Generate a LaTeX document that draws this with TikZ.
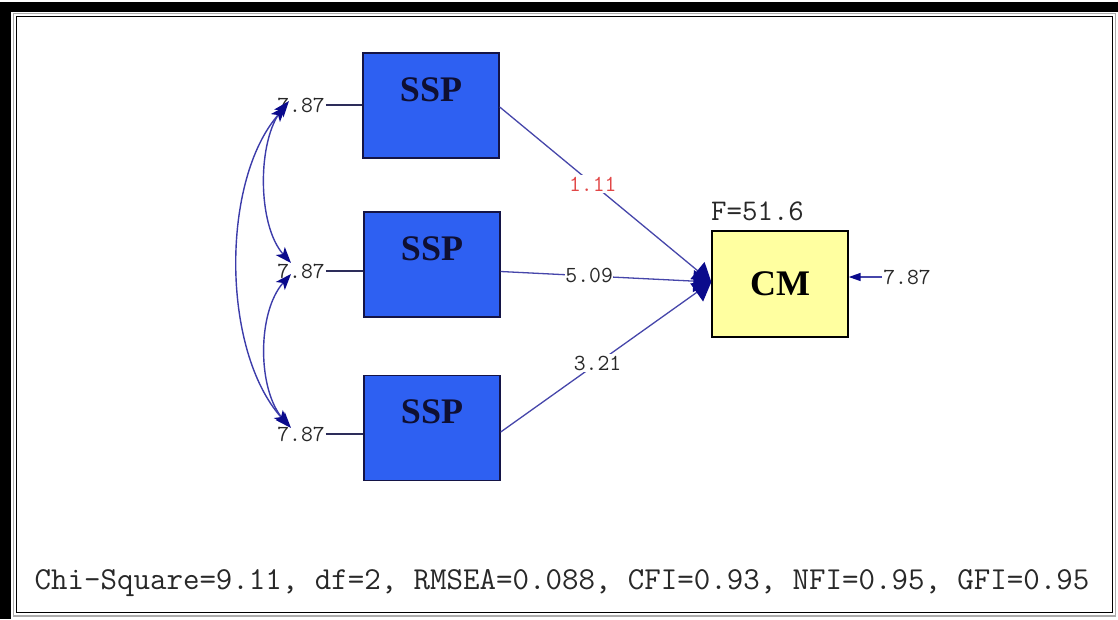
\documentclass[tikz,border=0pt]{standalone}
\usepackage{fontspec}
\setmainfont{Liberation Serif}
\usetikzlibrary{arrows.meta,calc}

\definecolor{sspblue}{RGB}{46,96,242}
\definecolor{boxedge}{RGB}{20,20,70}
\definecolor{cmyellow}{RGB}{255,255,160}
\definecolor{pathblue}{RGB}{70,70,170}
\definecolor{tipnavy}{RGB}{10,10,140}
\definecolor{coefred}{RGB}{225,70,70}
\definecolor{numgray}{RGB}{40,40,40}

\tikzset{
  sspbox/.style={draw=boxedge, line width=1.4pt, fill=sspblue,
    minimum width=136pt, minimum height=105pt, inner sep=0pt},
  cmbox/.style={draw=black, line width=1.4pt, fill=cmyellow,
    minimum width=136pt, minimum height=106pt, inner sep=0pt,
    font=\fontsize{36}{36}\selectfont\bfseries, text=black},
  boxtext/.style={font=\fontsize{36}{36}\selectfont\bfseries, text={rgb,255:red,15;green,15;blue,50}, inner sep=0pt},
  numlabel/.style={font=\ttfamily\fontsize{23}{23}\selectfont, text=numgray, inner sep=1pt},
  coef/.style={numlabel, fill=white, inner sep=1.5pt},
  errline/.style={draw={rgb,255:red,45;green,45;blue,90}, line width=1.5pt},
  pathline/.style={draw=pathblue, line width=1.3pt,
    -{Triangle[length=18pt,width=22pt,color=tipnavy]}},
  covline/.style={draw={rgb,255:red,60;green,60;blue,170}, line width=1.4pt,
    {Stealth[length=16pt,width=12pt,inset=4pt,color=tipnavy]}-{Stealth[length=16pt,width=12pt,inset=4pt,color=tipnavy]}},
  resline/.style={draw=pathblue, line width=1.5pt,
    -{Triangle[length=12pt,width=8pt,color=tipnavy]}}
}

\begin{document}
\begin{tikzpicture}[x=1pt,y=-1pt]
\useasboundingbox (0,0) rectangle (1118,619);
\fill[white] (0,0) rectangle (1118,619);

% window frame
\fill[black] (0,2) rectangle (1118,12);
\fill[black] (0,2) rectangle (11,619);
\draw[gray!65, line width=1.6pt] (13.5,13.5) rectangle (1115.5,616);
\draw[black, line width=1pt] (16,16) rectangle (1112,612);

% observed variables
\node[sspbox] (ssp1) at (431,105.5) {};
\node[sspbox] (ssp2) at (432,264.5) {};
\node[sspbox] (ssp3) at (432,428) {};
\node[boxtext] (t1) at ([yshift=16pt]ssp1.center) {SSP};
\node[boxtext] (t2) at ([yshift=16pt]ssp2.center) {SSP};
\node[boxtext] (t3) at ([yshift=16pt]ssp3.center) {SSP};

\node[cmbox] (cm) at (780,284) {CM};
\node[font=\ttfamily\fontsize{30}{30}\selectfont, text=numgray, anchor=south west, inner sep=0pt] (fval) at (711,221) {F=51.6};

% error variances
\node[numlabel] (e1) at (301,105) {7.87};
\node[numlabel] (e2) at (301,271) {7.87};
\node[numlabel] (e3) at (301,434) {7.87};
\node[numlabel] (e4) at (907,277) {7.87};

\draw[errline] (e1.east) -- (e1.east -| ssp1.west);
\draw[errline] (e2.east) -- (e2.east -| ssp2.west);
\draw[errline] (e3.east) -- (e3.east -| ssp3.west);
\draw[resline] (e4.west) -- (e4.west -| cm.east);

% structural paths
\draw[pathline] ([yshift=-1.5pt]ssp1.east) -- node[coef, pos=0.44, text=coefred] (c1) {1.11} ([yshift=2pt]cm.west);
\draw[pathline] ([yshift=-7pt]ssp2.east) -- node[coef, pos=0.42, inner sep=0.5pt] (c2) {5.09} ([yshift=2pt]cm.west);
\draw[pathline] ([yshift=-4pt]ssp3.east) -- node[coef, pos=0.46] (c3) {3.21} ([yshift=2pt]cm.west);

% covariances between the error terms
\coordinate (a1) at (289,101);
\coordinate (a2) at (291,263);
\coordinate (b2) at (291,274);
\coordinate (b3) at (291,428);
\coordinate (d1) at (286,106);
\coordinate (d3) at (289,426);
\draw[covline] (a1) .. controls (257,140) and (257,225) .. (a2);
\draw[covline] (b2) .. controls (257,312) and (257,390) .. (b3);
\draw[covline] (d1) .. controls (221,180) and (221,350) .. (d3);

% fit statistics
\node[font=\ttfamily\fontsize{32}{32}\selectfont, text=numgray, inner sep=0pt] (fit) at (562,583) {Chi-Square=9.11, df=2, RMSEA=0.088, CFI=0.93, NFI=0.95, GFI=0.95};
\end{tikzpicture}
\end{document}
